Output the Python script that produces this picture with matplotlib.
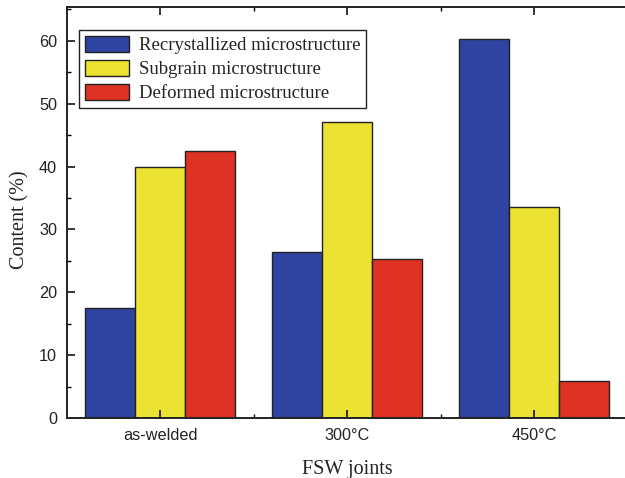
import matplotlib
matplotlib.use("Agg")
import matplotlib.pyplot as plt
import numpy as np
from matplotlib.ticker import MultipleLocator, FixedLocator

categories = ["as-welded", "300°C", "450°C"]
series_names = ["Recrystallized microstructure", "Subgrain microstructure", "Deformed microstructure"]
recrystallized = [17.6, 26.4, 60.3]
subgrain = [39.9, 47.1, 33.6]
deformed = [42.4, 25.3, 5.9]
colors = ["#2E44A0", "#ECE232", "#DD3224"]

W, H = 625, 478
fig = plt.figure(figsize=(W / 100, H / 100), dpi=100)
left, right = 66.7 / W, 627.8 / W
bottom, top = 1 - 418.3 / H, 1 - 7.3 / H
ax = fig.add_axes([left, bottom, right - left, top - bottom])

x = np.arange(len(categories))
bw = 50 / 187
for i, (vals, name, c) in enumerate(zip([recrystallized, subgrain, deformed], series_names, colors)):
    ax.bar(x + (i - 1) * bw, vals, width=bw, color=c, edgecolor="#222222", linewidth=1.0, label=name)

ax.set_xlim(-0.5, 2.5)
ax.set_ylim(0, 65.3)
ax.set_xticks(x)
ax.set_xticklabels(categories, family="Liberation Sans", fontsize=11.7, color="#222222")
ax.xaxis.set_minor_locator(FixedLocator([0.5, 1.5]))
ax.yaxis.set_major_locator(MultipleLocator(10))
ax.yaxis.set_minor_locator(MultipleLocator(5))
for lab in ax.get_yticklabels():
    lab.set_family("Liberation Sans")
ax.tick_params(axis="y", labelsize=11.7, labelcolor="#222222")
ax.tick_params(which="major", direction="in", length=5.5, width=1.1, top=True, right=False, pad=7)
ax.tick_params(which="minor", direction="in", length=3.2, width=1.0, top=True, right=False)
ax.tick_params(axis="x", which="major", pad=7)
for s in ax.spines.values():
    s.set_linewidth(1.4)
    s.set_color("#222222")

ax.set_xlabel("FSW joints", family="Liberation Serif", fontsize=14.5, color="#222222", labelpad=12)
ax.set_ylabel("Content (%)", family="Liberation Serif", fontsize=14.5, color="#222222")
ax.yaxis.set_label_coords((29 - 66.7) / (627.8 - 66.7), (418.3 - 220) / (418.3 - 7.3))

leg = ax.legend(loc="upper left", bbox_to_anchor=((79 - 66.7) / (627.8 - 66.7), 1 - (30 - 7.3) / (418.3 - 7.3)),
                borderaxespad=0, prop={"family": "Liberation Serif", "size": 13.5},
                frameon=True, fancybox=False, edgecolor="#222222", framealpha=1,
                handlelength=2.35, handleheight=0.95, handletextpad=0.55, labelspacing=0.3,
                borderpad=0.3)
leg.get_frame().set_linewidth(1.0)
for t in leg.get_texts():
    t.set_color("#222222")

fig.savefig("out.png", dpi=100)
